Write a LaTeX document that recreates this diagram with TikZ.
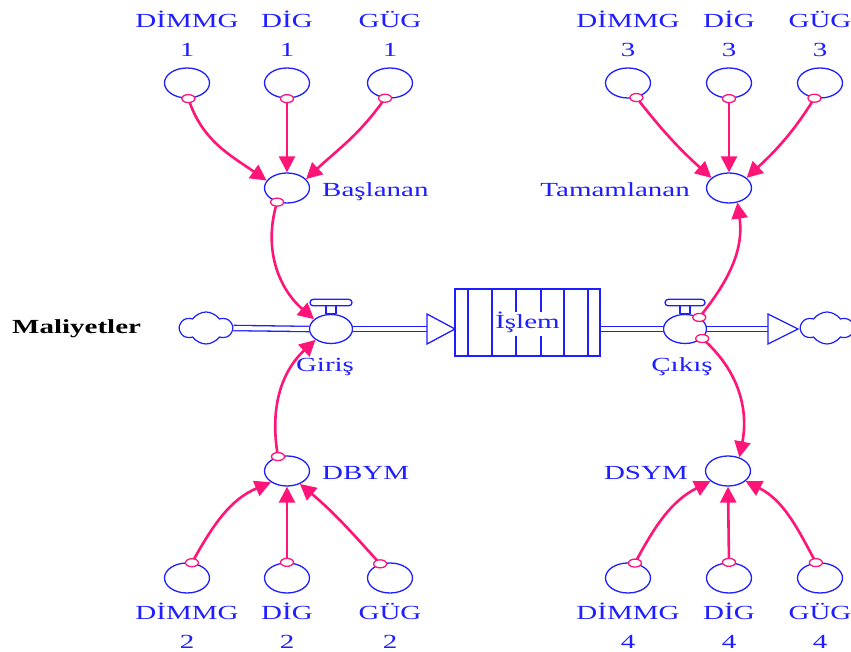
\documentclass[tikz,border=0pt]{standalone}
\usepackage{fontspec}
\setmainfont{Liberation Serif}[FakeStretch=1.45]
\usetikzlibrary{shapes.geometric,shapes.symbols,arrows.meta}

\definecolor{vblue}{RGB}{30,30,255}
\definecolor{vpink}{RGB}{255,20,120}

\tikzset{
  aux/.style={ellipse, draw=vblue, fill=white, line width=1.3pt, minimum width=45pt, minimum height=30pt, inner sep=0pt},
  valve/.style={ellipse, draw=vblue, fill=white, line width=1.3pt, minimum width=43pt, minimum height=29pt, inner sep=0pt},
  sink/.style={cloud, cloud puffs=6, cloud puff arc=110, aspect=1.6, draw=vblue, line width=1.2pt, minimum width=52pt, minimum height=32pt, inner sep=0pt},
  lbl/.style={text=vblue, font=\fontsize{20}{29}\selectfont, inner sep=0pt, align=center},
  link/.style={vpink, line width=2.6pt, -{Triangle[length=16pt,width=16pt]}},
  tailring/.style={draw=vpink, fill=white, line width=1.3pt},
  pipe/.style={draw=vblue, line width=1.3pt, double=white, double distance=4pt},
  pipehead/.style={draw=vblue, fill=white, line width=1.3pt},
  stockline/.style={draw=vblue, line width=1.6pt}
}

\begin{document}
\begin{tikzpicture}[x=1pt, y=1pt]
  \useasboundingbox (0,0) rectangle (851,652);

  % Auxiliaries, top row
  \node[aux] (dimmg1) at (187,569) {};
  \node[aux] (dig1) at (287,569) {};
  \node[aux] (gug1) at (390,569) {};
  \node[aux] (dimmg3) at (628,569) {};
  \node[aux] (dig3) at (729,569) {};
  \node[aux] (gug3) at (820,569) {};

  \node[lbl, anchor=base] (ldimmg1) at (187,595) {DİMMG\\1};
  \node[lbl, anchor=base] (ldig1) at (287,595) {DİG\\1};
  \node[lbl, anchor=base] (lgug1) at (390,595) {GÜG\\1};
  \node[lbl, anchor=base] (ldimmg3) at (628,595) {DİMMG\\3};
  \node[lbl, anchor=base] (ldig3) at (729,595) {DİG\\3};
  \node[lbl, anchor=base] (lgug3) at (820,595) {GÜG\\3};

  % Auxiliaries, bottom row
  \node[aux] (dimmg2) at (187,74) {};
  \node[aux] (dig2) at (287,74) {};
  \node[aux] (gug2) at (390,74) {};
  \node[aux] (dimmg4) at (628,74) {};
  \node[aux] (dig4) at (729,74) {};
  \node[aux] (gug4) at (820,74) {};

  \node[lbl, anchor=base] (ldimmg2) at (187,3) {DİMMG\\2};
  \node[lbl, anchor=base] (ldig2) at (287,3) {DİG\\2};
  \node[lbl, anchor=base] (lgug2) at (390,3) {GÜG\\2};
  \node[lbl, anchor=base] (ldimmg4) at (628,3) {DİMMG\\4};
  \node[lbl, anchor=base] (ldig4) at (729,3) {DİG\\4};
  \node[lbl, anchor=base] (lgug4) at (820,3) {GÜG\\4};

  % Middle auxiliaries
  \node[aux] (basla) at (287,464) {};
  \node[aux] (tamam) at (729,464) {};
  \node[aux] (dbym) at (287,181) {};
  \node[aux] (dsym) at (728,181) {};
  \node[lbl, anchor=base west] (lbasla) at (322,455) {Başlanan};
  \node[lbl, anchor=base east] (ltamam) at (690,455) {Tamamlanan};
  \node[lbl, anchor=base west] (ldbym) at (322,172) {DBYM};
  \node[lbl, anchor=base east] (ldsym) at (688,172) {DSYM};

  % Flow
  \node[anchor=base west, inner sep=0pt, font=\fontsize{20}{24}\selectfont\bfseries] (maliyet) at (12,318) {Maliyetler};
  \node[sink] (cloudL) at (206,324) {};
  \node[sink] (cloudR) at (827,324) {};
  \node[draw=vblue, line width=1.6pt, minimum width=145pt, minimum height=67pt, inner sep=0pt, text=vblue, font=\fontsize{20}{24}\selectfont] (islem) at (527.5,329.5) {İşlem};
  \node[valve] (giris) at (331,323) {};
  \node[valve] (cikis) at (685,323) {};
  \coordinate (headL) at (427,323);
  \coordinate (headR) at (768,323);

  \draw[pipe] (cloudL.east) -- (giris.west);
  \draw[pipe] (giris.east) -- (headL);
  \draw[pipehead] (headL) ++(0,15) -- ++(28,-15) -- ++(-28,-15) -- cycle;
  \draw[pipe] (islem.east |- cikis) -- (cikis.west);
  \draw[pipe] (cikis.east) -- (headR);
  \draw[pipehead] (headR) ++(0,15) -- ++(30,-15) -- ++(-30,-15) -- cycle;

  % Valve tops
  \draw[pipehead] (giris.north) ++(-5,0) rectangle ++(10,8);
  \draw[pipehead, rounded corners=3.2pt] (giris.north) ++(-21,8) rectangle ++(42,6.5);
  \draw[pipehead] (cikis.north) ++(-5,0) rectangle ++(10,8);
  \draw[pipehead, rounded corners=3.2pt] (cikis.north) ++(-20,8) rectangle ++(40,6.5);

  % Stock bars
  \draw[stockline] (468,296) -- (468,363);
  \draw[stockline] (492,296) -- (492,363);
  \draw[stockline] (516,363) -- (516,340);
  \draw[stockline] (516,316) -- (516,296);
  \draw[stockline] (541,363) -- (541,340);
  \draw[stockline] (541,316) -- (541,296);
  \draw[stockline] (564,296) -- (564,363);
  \draw[stockline] (588,296) -- (588,363);

  \node[lbl, anchor=base] (lgiris) at (325,280) {Giriş};
  \node[lbl, anchor=base] (lcikis) at (682,280) {Çıkış};

  % Links
  \draw[link] (dimmg1.-85) to[out=-72, in=145] (basla.160);
  \draw[link] (dig1.south) -- (basla.north);
  \draw[link] (gug1.-108) to[out=-125, in=43] (basla.25);
  \draw[link] (dimmg3.-60) to[out=-52, in=138] (tamam.150);
  \draw[link] (dig3.south) -- (tamam.north);
  \draw[link] (gug3.-110) to[out=-122, in=43] (tamam.30);

  \draw[link] (dimmg2.72) to[out=61, in=-157] (dbym.-145);
  \draw[link] (dig2.north) -- (dbym.south);
  \draw[link] (gug2.125) to[out=132, in=-40] (dbym.-45);
  \draw[link] (dimmg4.65) to[out=62, in=-153] (dsym.-150);
  \draw[link] (dig4.north) -- (dsym.south);
  \draw[link] (gug4.105) to[out=118, in=-27] (dsym.-30);

  \draw[link] (basla.-125) to[out=-107, in=139] (giris.150);
  \draw[link] (dbym.122) to[out=100, in=-137] (giris.-145);
  \draw[link] (cikis.39) to[out=51, in=-82] (tamam.-60);
  \draw[link] (cikis.-29) to[out=-41, in=79] (dsym.50);

  % Link tails
  \draw[tailring] (dimmg1.-85) ellipse [x radius=6.5, y radius=4];
  \draw[tailring] (dig1.south) ellipse [x radius=6.5, y radius=4];
  \draw[tailring] (gug1.-108) ellipse [x radius=6.5, y radius=4];
  \draw[tailring] (dimmg3.-60) ellipse [x radius=6.5, y radius=4];
  \draw[tailring] (dig3.south) ellipse [x radius=6.5, y radius=4];
  \draw[tailring] (gug3.-110) ellipse [x radius=6.5, y radius=4];
  \draw[tailring] (dimmg2.72) ellipse [x radius=6.5, y radius=4];
  \draw[tailring] (dig2.north) ellipse [x radius=6.5, y radius=4];
  \draw[tailring] (gug2.125) ellipse [x radius=6.5, y radius=4];
  \draw[tailring] (dimmg4.65) ellipse [x radius=6.5, y radius=4];
  \draw[tailring] (dig4.north) ellipse [x radius=6.5, y radius=4];
  \draw[tailring] (gug4.105) ellipse [x radius=6.5, y radius=4];
  \draw[tailring] (basla.-125) ellipse [x radius=6.5, y radius=4];
  \draw[tailring] (dbym.122) ellipse [x radius=6.5, y radius=4];
  \draw[tailring] (cikis.39) ellipse [x radius=6.5, y radius=4];
  \draw[tailring] (cikis.-29) ellipse [x radius=6.5, y radius=4];
\end{tikzpicture}
\end{document}
